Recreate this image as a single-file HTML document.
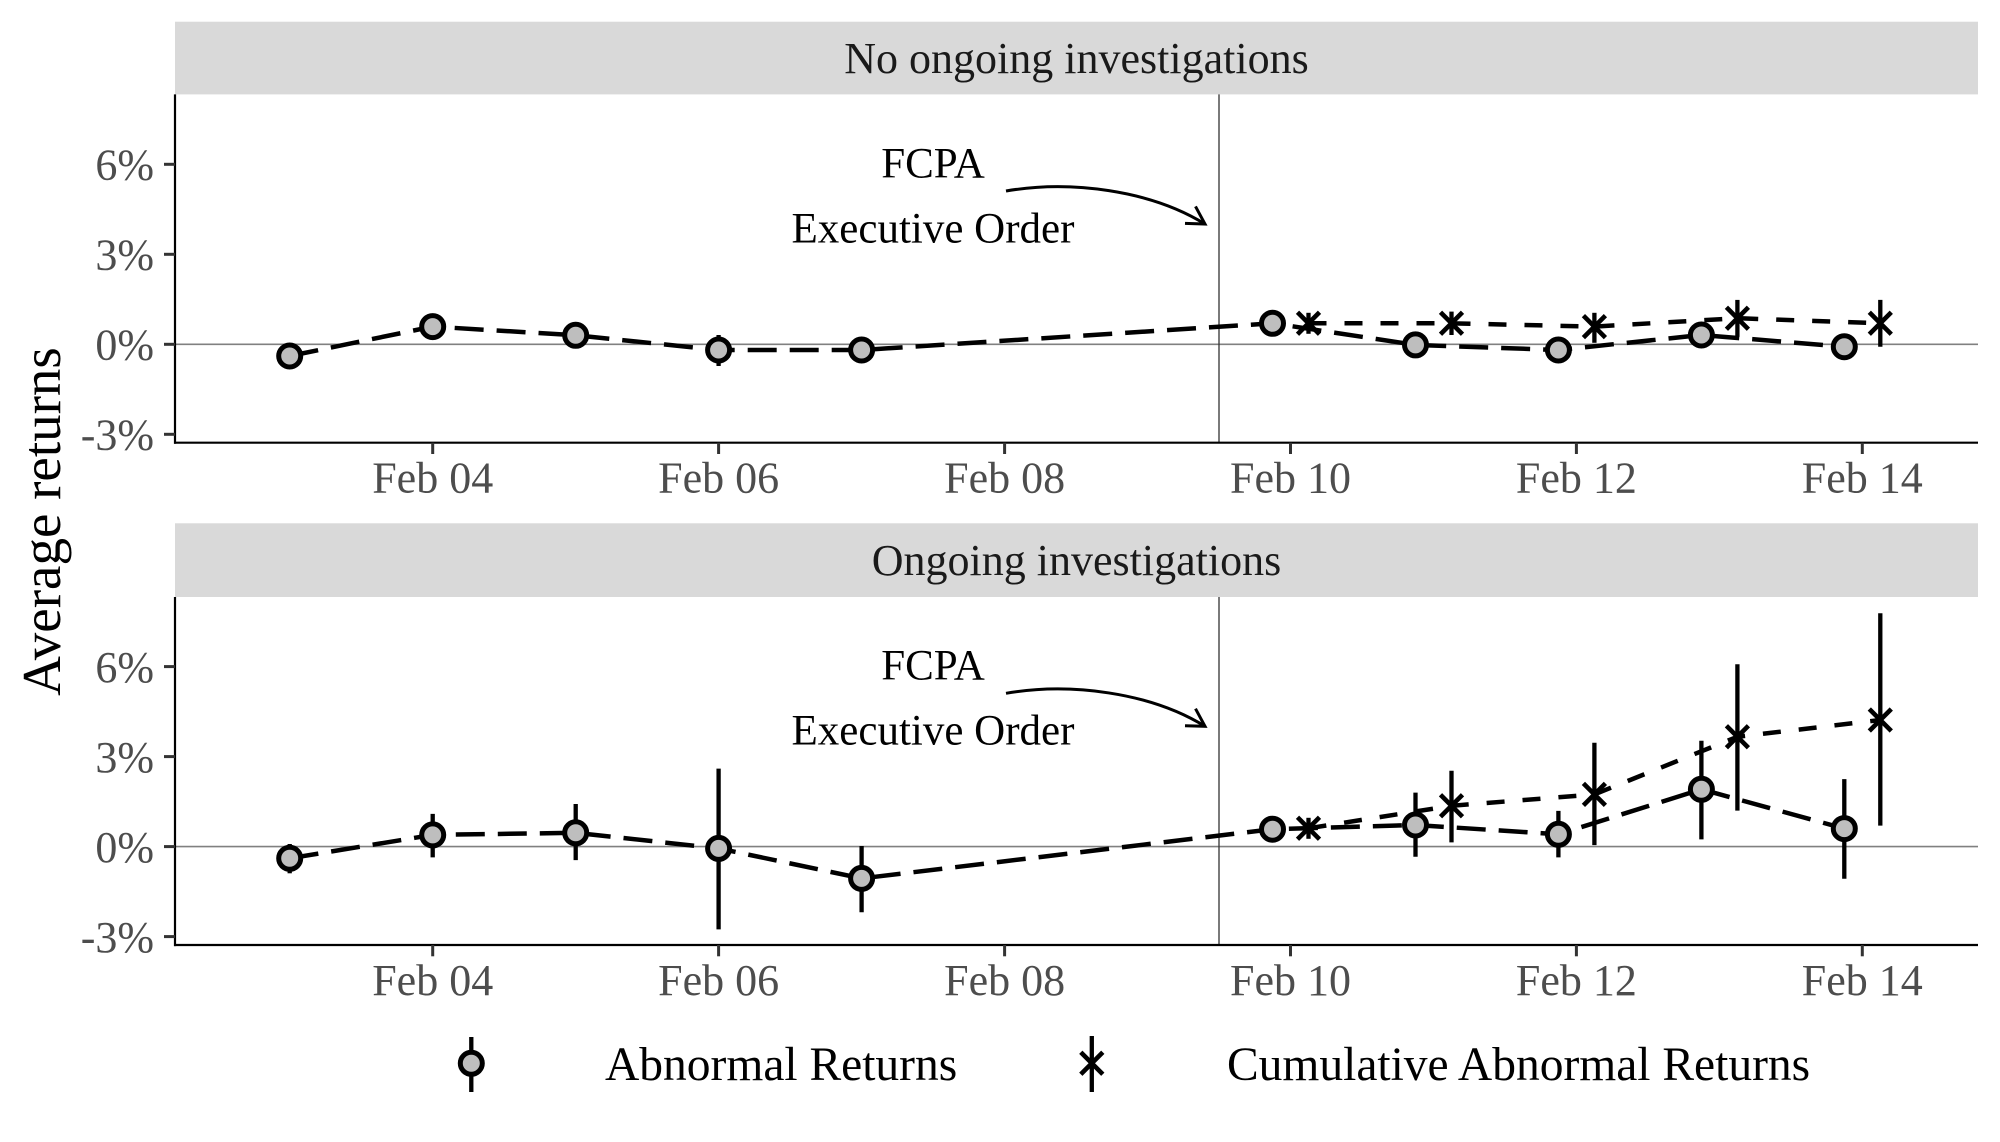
<!DOCTYPE html>
<html><head><meta charset="utf-8"><style>
html,body{margin:0;padding:0;background:#fff;}
svg{display:block;}
text{font-family:"Liberation Serif","Times New Roman",serif;}
</style></head><body>
<svg width="2000" height="1142" viewBox="0 0 2000 1142" xmlns="http://www.w3.org/2000/svg">
<rect width="2000" height="1142" fill="#fff"/>

<!-- Y axis title -->
<text transform="translate(60,521.5) rotate(-90)" text-anchor="middle" font-size="55" fill="#000">Average returns</text>

<!-- ================= PANEL 1 ================= -->
<rect x="175" y="21.7" width="1803" height="72.7" fill="#d9d9d9"/>
<text x="1076.5" y="73" text-anchor="middle" font-size="44" fill="#1a1a1a">No ongoing investigations</text>

<line x1="175" y1="344.3" x2="1978" y2="344.3" stroke="#808080" stroke-width="1.6"/>
<line x1="1219" y1="94.4" x2="1219" y2="442.7" stroke="#333" stroke-width="1.3"/>

<line x1="175" y1="94.4" x2="175" y2="443.8" stroke="#000" stroke-width="2.2"/>
<line x1="174" y1="442.7" x2="1978" y2="442.7" stroke="#000" stroke-width="2.2"/>
<g stroke="#333" stroke-width="3">
<line x1="164" y1="164.3" x2="175" y2="164.3"/>
<line x1="164" y1="254.3" x2="175" y2="254.3"/>
<line x1="164" y1="344.3" x2="175" y2="344.3"/>
<line x1="164" y1="434.3" x2="175" y2="434.3"/>
</g>
<g font-size="44" fill="#4d4d4d" text-anchor="end">
<text x="154" y="179.5">6%</text>
<text x="154" y="269.5">3%</text>
<text x="154" y="359.5">0%</text>
<text x="154" y="449.5">-3%</text>
</g>
<g stroke="#333" stroke-width="3">
<line x1="432.7" y1="442.7" x2="432.7" y2="454"/>
<line x1="718.6" y1="442.7" x2="718.6" y2="454"/>
<line x1="1004.6" y1="442.7" x2="1004.6" y2="454"/>
<line x1="1290.5" y1="442.7" x2="1290.5" y2="454"/>
<line x1="1576.4" y1="442.7" x2="1576.4" y2="454"/>
<line x1="1862.3" y1="442.7" x2="1862.3" y2="454"/>
</g>
<g font-size="44" fill="#4d4d4d" text-anchor="middle">
<text x="432.7" y="492.7">Feb 04</text>
<text x="718.6" y="492.7">Feb 06</text>
<text x="1004.6" y="492.7">Feb 08</text>
<text x="1290.5" y="492.7">Feb 10</text>
<text x="1576.4" y="492.7">Feb 12</text>
<text x="1862.3" y="492.7">Feb 14</text>
</g>

<polyline fill="none" stroke="#000" stroke-width="4.5" stroke-dasharray="29,13" points="289.7,356.0 432.7,326.6 575.7,335.3 718.6,350.0 861.6,350.0 1272.5,323.3 1415.5,344.9 1558.4,350.0 1701.4,335.0 1844.3,346.7"/>
<polyline fill="none" stroke="#000" stroke-width="4.5" stroke-dasharray="18,18" points="1308.5,323.3 1451.5,323.3 1594.4,326.6 1737.4,318.2 1880.3,323.3"/>

<g stroke="#000" stroke-width="4.3">
<line x1="289.7" y1="348" x2="289.7" y2="364"/>
<line x1="432.7" y1="318" x2="432.7" y2="335"/>
<line x1="575.7" y1="327" x2="575.7" y2="344"/>
<line x1="718.6" y1="335" x2="718.6" y2="366"/>
<line x1="861.6" y1="342" x2="861.6" y2="358"/>
<line x1="1272.5" y1="315" x2="1272.5" y2="332"/>
<line x1="1415.5" y1="337" x2="1415.5" y2="353"/>
<line x1="1558.4" y1="342" x2="1558.4" y2="358"/>
<line x1="1701.4" y1="327" x2="1701.4" y2="343"/>
<line x1="1844.3" y1="338" x2="1844.3" y2="355"/>
<line x1="1308.5" y1="312.8" x2="1308.5" y2="333.8"/>
<line x1="1451.5" y1="311.6" x2="1451.5" y2="335"/>
<line x1="1594.4" y1="312.8" x2="1594.4" y2="342.8"/>
<line x1="1737.4" y1="299.9" x2="1737.4" y2="336.8"/>
<line x1="1880.3" y1="299.9" x2="1880.3" y2="346.7"/>
</g>

<g fill="#bebebe" stroke="#000" stroke-width="5">
<circle cx="289.7" cy="356.0" r="11"/>
<circle cx="432.7" cy="326.6" r="11"/>
<circle cx="575.7" cy="335.3" r="11"/>
<circle cx="718.6" cy="350.0" r="11"/>
<circle cx="861.6" cy="350.0" r="11"/>
<circle cx="1272.5" cy="323.3" r="11"/>
<circle cx="1415.5" cy="344.9" r="11"/>
<circle cx="1558.4" cy="350.0" r="11"/>
<circle cx="1701.4" cy="335.0" r="11"/>
<circle cx="1844.3" cy="346.7" r="11"/>
</g>
<path fill="none" stroke="#000" stroke-width="4.6" d="M1297.5,312.3L1319.5,334.3M1297.5,334.3L1319.5,312.3 M1440.5,312.3L1462.5,334.3M1440.5,334.3L1462.5,312.3 M1583.4,315.6L1605.4,337.6M1583.4,337.6L1605.4,315.6 M1726.4,307.2L1748.4,329.2M1726.4,329.2L1748.4,307.2 M1869.3,312.3L1891.3,334.3M1869.3,334.3L1891.3,312.3"/>

<g>
<text x="933" y="177.3" text-anchor="middle" font-size="43" fill="#000">FCPA</text>
<text x="933" y="242.3" text-anchor="middle" font-size="43" fill="#000">Executive Order</text>
<path d="M1006,191 C1070,180 1150,190 1205,224" fill="none" stroke="#000" stroke-width="3"/>
<path d="M1185,223.4 L1205,224 L1195.5,206.4" fill="none" stroke="#000" stroke-width="3"/>
</g>

<!-- ================= PANEL 2 ================= -->
<rect x="175" y="523.3" width="1803" height="73.7" fill="#d9d9d9"/>
<text x="1076.5" y="575" text-anchor="middle" font-size="44" fill="#1a1a1a">Ongoing investigations</text>

<line x1="175" y1="846.6" x2="1978" y2="846.6" stroke="#808080" stroke-width="1.6"/>
<line x1="1219" y1="597" x2="1219" y2="945" stroke="#333" stroke-width="1.3"/>

<line x1="175" y1="597" x2="175" y2="946.1" stroke="#000" stroke-width="2.2"/>
<line x1="174" y1="945" x2="1978" y2="945" stroke="#000" stroke-width="2.2"/>
<g stroke="#333" stroke-width="3">
<line x1="164" y1="666.6" x2="175" y2="666.6"/>
<line x1="164" y1="756.6" x2="175" y2="756.6"/>
<line x1="164" y1="846.6" x2="175" y2="846.6"/>
<line x1="164" y1="936.6" x2="175" y2="936.6"/>
</g>
<g font-size="44" fill="#4d4d4d" text-anchor="end">
<text x="154" y="681.8">6%</text>
<text x="154" y="771.8">3%</text>
<text x="154" y="861.8">0%</text>
<text x="154" y="951.8">-3%</text>
</g>
<g stroke="#333" stroke-width="3">
<line x1="432.7" y1="945" x2="432.7" y2="956.3"/>
<line x1="718.6" y1="945" x2="718.6" y2="956.3"/>
<line x1="1004.6" y1="945" x2="1004.6" y2="956.3"/>
<line x1="1290.5" y1="945" x2="1290.5" y2="956.3"/>
<line x1="1576.4" y1="945" x2="1576.4" y2="956.3"/>
<line x1="1862.3" y1="945" x2="1862.3" y2="956.3"/>
</g>
<g font-size="44" fill="#4d4d4d" text-anchor="middle">
<text x="432.7" y="995">Feb 04</text>
<text x="718.6" y="995">Feb 06</text>
<text x="1004.6" y="995">Feb 08</text>
<text x="1290.5" y="995">Feb 10</text>
<text x="1576.4" y="995">Feb 12</text>
<text x="1862.3" y="995">Feb 14</text>
</g>

<polyline fill="none" stroke="#000" stroke-width="4.5" stroke-dasharray="29,13" points="289.7,858.3 432.7,834.9 575.7,832.8 718.6,848.4 861.6,878.4 1272.5,829.2 1415.5,825.0 1558.4,834.3 1701.4,789.3 1844.3,828.6"/>
<polyline fill="none" stroke="#000" stroke-width="4.5" stroke-dasharray="18,18" points="1308.5,828.3 1451.5,805.8 1594.4,794.4 1737.4,736.8 1880.3,720.0"/>

<g stroke="#000" stroke-width="4.3">
<line x1="289.7" y1="844" x2="289.7" y2="873.3"/>
<line x1="432.7" y1="813.9" x2="432.7" y2="857.4"/>
<line x1="575.7" y1="804" x2="575.7" y2="860.1"/>
<line x1="718.6" y1="768.6" x2="718.6" y2="929.4"/>
<line x1="861.6" y1="846" x2="861.6" y2="912.3"/>
<line x1="1272.5" y1="818.7" x2="1272.5" y2="839.7"/>
<line x1="1415.5" y1="792.6" x2="1415.5" y2="856.8"/>
<line x1="1558.4" y1="810.9" x2="1558.4" y2="857.4"/>
<line x1="1701.4" y1="740.7" x2="1701.4" y2="839.4"/>
<line x1="1844.3" y1="779.1" x2="1844.3" y2="878.7"/>
<line x1="1308.5" y1="817.8" x2="1308.5" y2="838.8"/>
<line x1="1451.5" y1="770.7" x2="1451.5" y2="842.4"/>
<line x1="1594.4" y1="742.8" x2="1594.4" y2="845.1"/>
<line x1="1737.4" y1="664.2" x2="1737.4" y2="810.6"/>
<line x1="1880.3" y1="613.2" x2="1880.3" y2="825.6"/>
</g>

<g fill="#bebebe" stroke="#000" stroke-width="5">
<circle cx="289.7" cy="858.3" r="11"/>
<circle cx="432.7" cy="834.9" r="11"/>
<circle cx="575.7" cy="832.8" r="11"/>
<circle cx="718.6" cy="848.4" r="11"/>
<circle cx="861.6" cy="878.4" r="11"/>
<circle cx="1272.5" cy="829.2" r="11"/>
<circle cx="1415.5" cy="825.0" r="11"/>
<circle cx="1558.4" cy="834.3" r="11"/>
<circle cx="1701.4" cy="789.3" r="11"/>
<circle cx="1844.3" cy="828.6" r="11"/>
</g>
<path fill="none" stroke="#000" stroke-width="4.6" d="M1297.5,817.3L1319.5,839.3M1297.5,839.3L1319.5,817.3 M1440.5,794.8L1462.5,816.8M1440.5,816.8L1462.5,794.8 M1583.4,783.4L1605.4,805.4M1583.4,805.4L1605.4,783.4 M1726.4,725.8L1748.4,747.8M1726.4,747.8L1748.4,725.8 M1869.3,709L1891.3,731M1869.3,731L1891.3,709"/>

<g transform="translate(0,502.3)">
<text x="933" y="177.3" text-anchor="middle" font-size="43" fill="#000">FCPA</text>
<text x="933" y="242.3" text-anchor="middle" font-size="43" fill="#000">Executive Order</text>
<path d="M1006,191 C1070,180 1150,190 1205,224" fill="none" stroke="#000" stroke-width="3"/>
<path d="M1185,223.4 L1205,224 L1195.5,206.4" fill="none" stroke="#000" stroke-width="3"/>
</g>

<!-- ================= LEGEND ================= -->
<line x1="471.3" y1="1037" x2="471.3" y2="1092" stroke="#000" stroke-width="4.3"/>
<circle cx="471.3" cy="1063.3" r="11" fill="#bebebe" stroke="#000" stroke-width="5"/>
<text x="605" y="1080" font-size="47.5" fill="#000">Abnormal Returns</text>

<line x1="1091.8" y1="1036" x2="1091.8" y2="1092" stroke="#000" stroke-width="4.3"/>
<path fill="none" stroke="#000" stroke-width="4.6" d="M1080.8,1052.3L1102.8,1074.3M1080.8,1074.3L1102.8,1052.3"/>
<text x="1227" y="1080" font-size="47.5" fill="#000">Cumulative Abnormal Returns</text>
</svg>
</body></html>
